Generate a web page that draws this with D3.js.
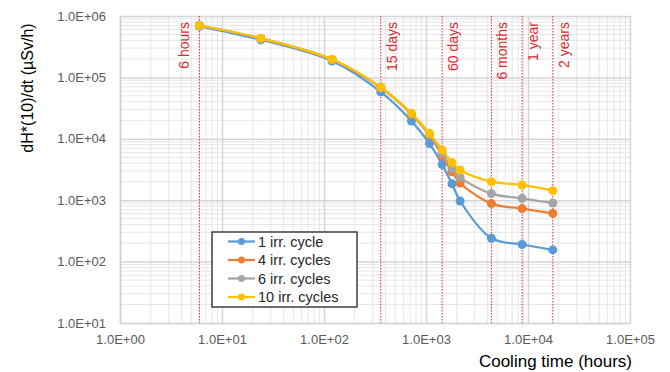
<!DOCTYPE html>
<html>
<head>
<meta charset="utf-8">
<script src="https://cdnjs.cloudflare.com/ajax/libs/d3/7.8.5/d3.min.js"></script>
<style>
  body { margin: 0; background: #fff; }
  text { font-family: "Liberation Sans", Arial, sans-serif; }
</style>
</head>
<body>
<script>
// cooling times (hours) en dosis waarden per serie
var hours = [6, 24, 120, 360, 720, 1080, 1440, 1800, 2160, 4380, 8760, 17520];
var seriesNames = ["1 irr. cycle", "4 irr. cycles", "6 irr. cycles", "10 irr. cycles"];
var cycle1  = [6.8e5, 4.1e5, 1.85e5, 5.8e4, 1.95e4, 8.4e3, 3.8e3, 1.85e3, 9.7e2, 2.4e2, 1.9e2, 1.55e2];
var cycle4  = [7.0e5, 4.3e5, 1.95e5, 6.8e4, 2.5e4, 1.15e4, 5.3e3, 2.9e3, 1.9e3, 8.8e2, 7.3e2, 6.1e2];
var cycle6  = [7.0e5, 4.3e5, 1.96e5, 6.85e4, 2.55e4, 1.18e4, 5.8e3, 3.3e3, 2.35e3, 1.28e3, 1.07e3, 9.0e2];
var cycle10 = [7.0e5, 4.35e5, 1.97e5, 6.9e4, 2.6e4, 1.23e4, 6.6e3, 4.1e3, 3.1e3, 2.0e3, 1.77e3, 1.43e3];
var colors = ["#5b9bd5", "#ed7d31", "#a5a5a5", "#ffc000"];

// rode verticale markeringen
var markHours = [6, 360, 1440, 4380, 8760, 17520];
var markLabels = ["6 hours", "15 days", "60 days", "6 months", "1 year", "2 years"];

var xTicks = [1, 10, 100, 1000, 10000, 100000];
var yTicks = [10, 100, 1000, 10000, 100000, 1000000];

var margin = {top: 16, right: 40, bottom: 49, left: 120},
    width = 670 - margin.left - margin.right,
    height = 372 - margin.top - margin.bottom;

var svg = d3.select("body").append("svg")
    .attr("width", 670)
    .attr("height", 372);

var g = svg.append("g")
    .attr("transform", "translate(" + margin.left + "," + margin.top + ")");

var x = d3.scaleLog().domain([1, 100000]).range([0, width]);
var y = d3.scaleLog().domain([10, 1000000]).range([height, 0]);

function sci(d) {
  var e = Math.round(Math.log10(d));
  return "1.0E+" + (e < 10 ? "0" : "") + e;
}

// minor gridlines
g.append("g").selectAll("line")
    .data(x.ticks().filter(function(d) { return xTicks.indexOf(d) < 0; }))
    .enter().append("line")
    .attr("x1", function(d) { return x(d); }).attr("x2", function(d) { return x(d); })
    .attr("y1", 0).attr("y2", height)
    .attr("stroke", "#e6e6e6").attr("stroke-width", 1);

g.append("g").selectAll("line")
    .data(y.ticks().filter(function(d) { return yTicks.indexOf(d) < 0; }))
    .enter().append("line")
    .attr("y1", function(d) { return y(d); }).attr("y2", function(d) { return y(d); })
    .attr("x1", 0).attr("x2", width)
    .attr("stroke", "#e6e6e6").attr("stroke-width", 1);

// major gridlines + assen
var xAxis = d3.axisBottom(x)
    .tickValues(xTicks)
    .tickSizeInner(-height)
    .tickSizeOuter(0)
    .tickPadding(12)
    .tickFormat(sci);

var yAxis = d3.axisLeft(y)
    .tickValues(yTicks)
    .tickSizeInner(-width)
    .tickSizeOuter(0)
    .tickPadding(14)
    .tickFormat(sci);

g.append("g")
    .attr("class", "x axis")
    .attr("transform", "translate(0," + height + ")")
    .call(xAxis);

g.append("g")
    .attr("class", "y axis")
    .call(yAxis);

g.selectAll(".axis .domain").attr("stroke", "#d0d0d0").attr("stroke-width", 1.5);
g.selectAll(".axis .tick line").attr("stroke", "#d6d6d6").attr("stroke-width", 1.5);
g.selectAll(".axis .tick text")
    .attr("fill", "#595959")
    .attr("font-size", 13)
    .attr("font-family", "Liberation Sans, Arial, sans-serif");

// rode stippellijnen met labels
var marks = g.append("g").selectAll("g")
    .data(markHours)
    .enter().append("g");

marks.append("line")
    .attr("x1", function(d) { return x(d); }).attr("x2", function(d) { return x(d); })
    .attr("y1", 0).attr("y2", height)
    .attr("stroke", "#e0282b")
    .attr("stroke-width", 1)
    .attr("stroke-dasharray", "1.5,1.5");

marks.append("text")
    .attr("transform", function(d, i) {
      var tx = i === 0 ? x(d) - 10 : x(d) + 16;
      return "translate(" + tx + ",6) rotate(-90)";
    })
    .attr("text-anchor", "end")
    .attr("fill", "#e0282b")
    .attr("font-size", 14)
    .text(function(d, i) { return markLabels[i]; });

// lijnen
var allSeries = [cycle1, cycle4, cycle6, cycle10];

var line = d3.line()
    .x(function(d, i) { return x(hours[i]); })
    .y(function(d) { return y(d); })
    .curve(d3.curveCatmullRom.alpha(0.5));

allSeries.forEach(function(vals, s) {
  g.append("path")
      .datum(vals)
      .attr("fill", "none")
      .attr("stroke", colors[s])
      .attr("stroke-width", 2.25)
      .attr("d", line);

  g.append("g").selectAll("circle")
      .data(vals)
      .enter().append("circle")
      .attr("cx", function(d, i) { return x(hours[i]); })
      .attr("cy", function(d) { return y(d); })
      .attr("r", 4.5)
      .attr("fill", colors[s]);
});

// as titels
svg.append("text")
    .attr("x", 632)
    .attr("y", 367)
    .attr("text-anchor", "end")
    .attr("font-size", 17)
    .attr("fill", "#000")
    .text("Cooling time (hours)");

svg.append("text")
    .attr("transform", "translate(33,88) rotate(-90)")
    .attr("text-anchor", "middle")
    .attr("font-size", 16)
    .attr("fill", "#000")
    .text("dH*(10)/dt (\u00b5Sv/h)");

// legenda
var legend = svg.append("g")
    .attr("transform", "translate(212,232)");

legend.append("rect")
    .attr("width", 145)
    .attr("height", 75)
    .attr("fill", "#fff")
    .attr("stroke", "#222")
    .attr("stroke-width", 1.3);

var item = legend.selectAll("g.item")
    .data(seriesNames)
    .enter().append("g")
      .attr("class", "item")
      .attr("transform", function(d, i) { return "translate(0," + (9.5 + i * 18.5) + ")"; });

item.append("line")
    .attr("x1", 16).attr("x2", 43)
    .attr("stroke", function(d, i) { return colors[i]; })
    .attr("stroke-width", 2.25);

item.append("circle")
    .attr("cx", 29.5)
    .attr("r", 3.5)
    .attr("fill", function(d, i) { return colors[i]; });

item.append("text")
    .attr("x", 46)
    .attr("dy", "0.35em")
    .attr("font-size", 14.5)
    .attr("fill", "#262626")
    .text(function(d) { return d; });
</script>
</body>
</html>
